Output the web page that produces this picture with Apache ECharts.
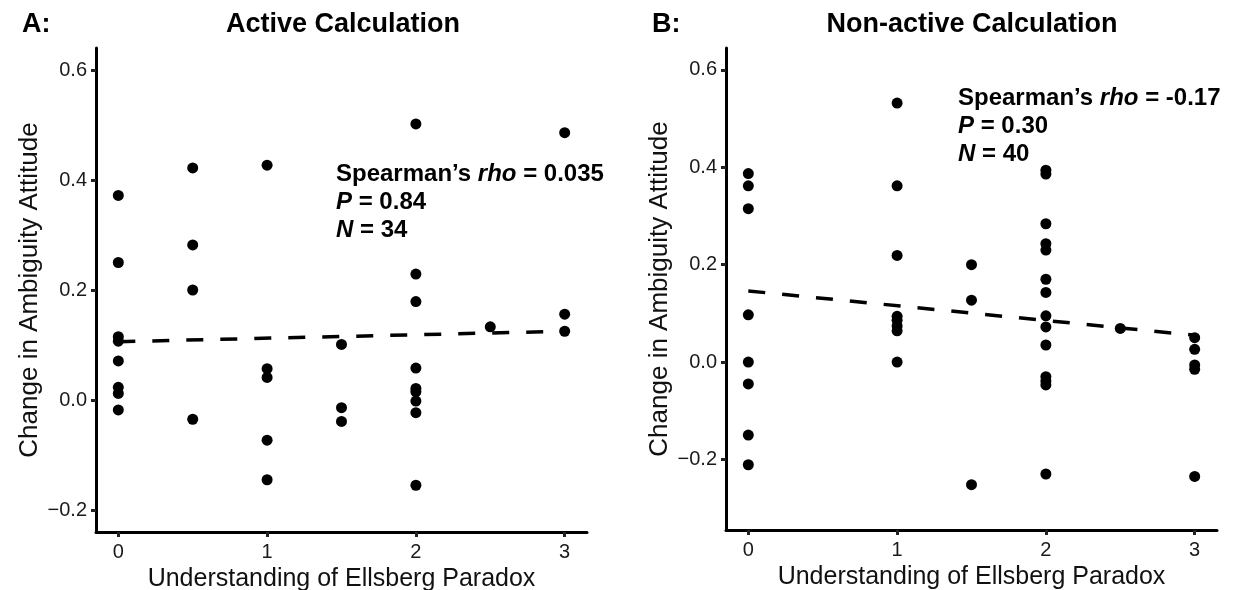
<!DOCTYPE html>
<html>
<head>
<meta charset="utf-8">
<script src="https://cdn.jsdelivr.net/npm/echarts@6/dist/echarts.min.js"></script>
<style>
  html, body { margin: 0; padding: 0; background: #fff; }
  #chart { width: 1238px; height: 590px; }
</style>
</head>
<body>
<div id="chart"></div>
<script>
// tick values
const xTicks = [0, 1, 2, 3]
const yTicksA = [-0.2, 0, 0.2, 0.4, 0.6]
const yTicksB = [-0.2, 0, 0.2, 0.4, 0.6]

// panel A: active calculation (understanding, change)
const activeX = [0, 0, 0, 0, 0, 0, 0, 0,
  0.5, 0.5, 0.5, 0.5,
  1, 1, 1, 1, 1,
  1.5, 1.5, 1.5,
  2, 2, 2, 2, 2, 2, 2, 2, 2,
  2.5,
  3, 3, 3]
const activeY = [0.372, 0.25, 0.115, 0.107, 0.071, 0.023, 0.012, -0.018,
  0.422, 0.282, 0.2, -0.035,
  0.427, 0.057, 0.041, -0.073, -0.145,
  0.101, -0.014, -0.039,
  0.502, 0.229, 0.179, 0.058, 0.021, 0.015, -0.002, -0.023, -0.155,
  0.133,
  0.486, 0.156, 0.125]

// panel B: non-active calculation
const passiveX = [0, 0, 0, 0, 0, 0, 0, 0,
  1, 1, 1, 1, 1, 1, 1, 1,
  1.5, 1.5, 1.5,
  2, 2, 2, 2, 2, 2, 2, 2, 2, 2, 2, 2, 2, 2,
  2.5,
  3, 3, 3, 3, 3]
const passiveY = [0.387, 0.362, 0.315, 0.097, 0.0, -0.045, -0.150, -0.211,
  0.532, 0.362, 0.219, 0.094, 0.086, 0.074, 0.064, 0.0,
  0.2, 0.127, -0.252,
  0.394, 0.386, 0.284, 0.243, 0.23, 0.17, 0.143, 0.095, 0.072, 0.035, -0.030, -0.039, -0.047, -0.230,
  0.069,
  0.05, 0.026, -0.006, -0.015, -0.235]

// fitted lines (value at x = 0 and x = 3)
const fitX = [0, 3]
const fitA = [0.106, 0.125]
const fitB = [0.146, 0.055]

const font = 'Liberation Sans, Arial, sans-serif'

function pairs (xs, ys) {
  return xs.map((x, i) => [x, ys[i]])
}

function fmt (v) {
  return v.toFixed(1).replace('-', '\u2212')
}

// shared axis style
function xAxisFor (idx) {
  return {
    type: 'value',
    gridIndex: idx,
    min: -0.15,
    max: 3.15,
    name: 'Understanding of Ellsberg Paradox',
    nameLocation: 'middle',
    nameGap: 31,
    nameTextStyle: { fontFamily: font, fontSize: 25, color: '#111' },
    axisLine: { onZero: false, lineStyle: { color: '#000', width: 3 } },
    axisTick: { customValues: xTicks, length: 5, lineStyle: { color: '#222', width: 3 } },
    axisLabel: { customValues: xTicks, margin: 10, fontFamily: font, fontSize: 20, color: '#1a1a1a' },
    splitLine: { show: false }
  }
}

function yAxisFor (idx, min, max, ticks) {
  return {
    type: 'value',
    gridIndex: idx,
    min: min,
    max: max,
    name: 'Change in Ambiguity Attitude',
    nameLocation: 'middle',
    nameGap: 53,
    nameTextStyle: { fontFamily: font, fontSize: 26, color: '#111' },
    axisLine: { show: true, onZero: false, lineStyle: { color: '#000', width: 3 } },
    axisTick: { show: true, customValues: ticks, length: 5, lineStyle: { color: '#222', width: 3 } },
    axisLabel: { customValues: ticks, margin: 9, fontFamily: font, fontSize: 20, color: '#1a1a1a', formatter: fmt },
    splitLine: { show: false }
  }
}

function fitSeries (idx, ys) {
  return {
    type: 'line',
    xAxisIndex: idx,
    yAxisIndex: idx,
    data: pairs(fitX, ys),
    showSymbol: false,
    silent: true,
    z: 2,
    lineStyle: { color: '#000', width: 3.5, type: [17, 17] }
  }
}

function pointSeries (idx, xs, ys) {
  return {
    type: 'scatter',
    xAxisIndex: idx,
    yAxisIndex: idx,
    data: pairs(xs, ys),
    symbolSize: 11,
    z: 3,
    itemStyle: { color: '#000', opacity: 1 }
  }
}

// three line annotation with italic letters
function statText (x, y, rho, p, n) {
  return {
    type: 'text',
    left: x,
    top: y,
    style: {
      text: '{b|Spearman\u2019s }{i|rho}{b| = ' + rho + '}\n{i|P}{b| = ' + p + '}\n{i|N}{b| = ' + n + '}',
      fontFamily: font,
      rich: {
        b: { fontFamily: font, fontSize: 24, fontWeight: 'bold', fill: '#000', lineHeight: 28 },
        i: { fontFamily: font, fontSize: 24, fontWeight: 'bold', fontStyle: 'italic', fill: '#000', lineHeight: 28 }
      }
    }
  }
}

function titleText (x, text, align) {
  return {
    type: 'text',
    x: x,
    y: 25,
    style: {
      text: text,
      fontFamily: font,
      fontSize: 27,
      fontWeight: 'bold',
      fill: '#000',
      align: align,
      verticalAlign: 'middle'
    }
  }
}

const chart = echarts.init(document.getElementById('chart'))
chart.setOption({
  backgroundColor: '#fff',
  animation: false,
  grid: [
    { left: 96, top: 48, width: 491, height: 484, outerBoundsMode: 'none' },
    { left: 726, top: 48, width: 491, height: 482, outerBoundsMode: 'none' }
  ],
  xAxis: [xAxisFor(0), xAxisFor(1)],
  yAxis: [yAxisFor(0, -0.24, 0.64, yTicksA), yAxisFor(1, -0.345, 0.645, yTicksB)],
  series: [
    fitSeries(0, fitA),
    pointSeries(0, activeX, activeY),
    fitSeries(1, fitB),
    pointSeries(1, passiveX, passiveY)
  ],
  graphic: [
    titleText(22, 'A:', 'left'),
    titleText(343, 'Active Calculation', 'center'),
    titleText(652, 'B:', 'left'),
    titleText(972, 'Non-active Calculation', 'center'),
    statText(336, 162, '0.035', '0.84', '34'),
    statText(958, 86, '-0.17', '0.30', '40')
  ]
})
</script>
</body>
</html>
